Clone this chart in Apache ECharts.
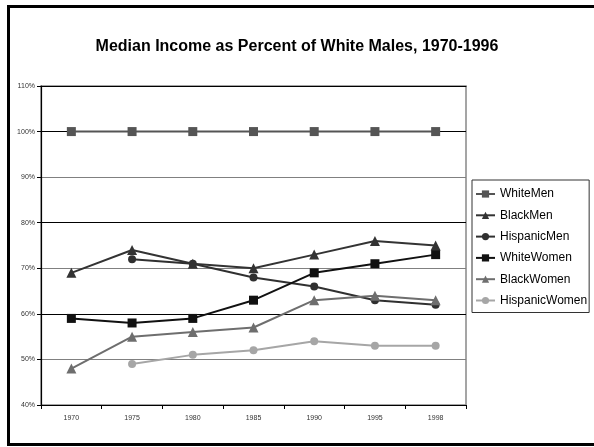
<!DOCTYPE html>
<html>
<head>
<meta charset="utf-8">
<script src="https://cdn.jsdelivr.net/npm/echarts@6/dist/echarts.min.js"></script>
<style>
  html, body { margin: 0; padding: 0; background: #fff; }
  #chart { width: 594px; height: 447px; }
</style>
</head>
<body>
<div id="chart"></div>
<script>
// Years on the category axis
const years = ['1970', '1975', '1980', '1985', '1990', '1995', '1998'];

// Median income as a percent of white males' median income
const whiteMen      = [100, 100, 100, 100, 100, 100, 100];
const blackMen      = [69, 74, 71, 70, 73, 76, 75];
const hispanicMen   = [null, 72, 71, 68, 66, 63, 62];
const whiteWomen    = [59, 58, 59, 63, 69, 71, 73];
const blackWomen    = [48, 55, 56, 57, 63, 64, 63];
const hispanicWomen = [null, 49, 51, 52, 54, 53, 53];

const chart = echarts.init(document.getElementById('chart'), null, { renderer: 'canvas' });

function lineSeries(name, data, color, symbol, size) {
  return {
    name: name,
    type: 'line',
    data: data,
    symbol: symbol,
    symbolSize: size,
    showSymbol: true,
    connectNulls: false,
    lineStyle: { color: color, width: 2 },
    itemStyle: { color: color },
    emphasis: { disabled: true },
    z: 3
  };
}

chart.setOption({
  animation: false,
  backgroundColor: '#ffffff',
  textStyle: { fontFamily: 'Liberation Sans, Arial, sans-serif' },
  title: {
    text: 'Median Income as Percent of White Males, 1970-1996',
    left: 'center',
    top: 34,
    textStyle: { fontSize: 16, fontWeight: 'bold', color: '#000', fontFamily: 'Liberation Sans, Arial, sans-serif' }
  },
  legend: {
    orient: 'vertical',
    left: 472,
    top: 180,
    padding: [8, 2, 6, 3],
    itemWidth: 19,
    itemHeight: 9,
    itemGap: 9.3,
    borderColor: '#333',
    borderWidth: 1,
    textStyle: { fontSize: 12, lineHeight: 12, color: '#000', fontFamily: 'Liberation Sans, Arial, sans-serif' },
    data: ['WhiteMen', 'BlackMen', 'HispanicMen', 'WhiteWomen', 'BlackWomen', 'HispanicWomen']
  },
  grid: {
    left: 41,
    top: 86,
    width: 425,
    bottom: 42,
    show: true,
    borderColor: '#888',
    borderWidth: 1.5,
    backgroundColor: 'transparent'
  },
  xAxis: [
    {
      type: 'category',
      data: years,
      boundaryGap: true,
      axisLine: { lineStyle: { color: '#000', width: 1.2 } },
      axisTick: { show: true, alignWithLabel: false, length: 4, lineStyle: { color: '#000' } },
      axisLabel: { fontSize: 7, color: '#333', margin: 10, fontFamily: 'Liberation Sans, Arial, sans-serif' },
      splitLine: { show: false }
    },
    {
      type: 'category',
      data: years,
      position: 'top',
      boundaryGap: true,
      axisLine: { show: true, lineStyle: { color: '#000', width: 1 } },
      axisTick: { show: false },
      axisLabel: { show: false },
      splitLine: { show: false }
    }
  ],
  yAxis: {
    type: 'value',
    min: 40,
    max: 110,
    interval: 10,
    axisLine: { show: true, lineStyle: { color: '#000', width: 1.2 } },
    axisTick: { show: true, length: 4, lineStyle: { color: '#000' } },
    axisLabel: { fontSize: 7, color: '#333', margin: 6, formatter: '{value}%', fontFamily: 'Liberation Sans, Arial, sans-serif' },
    splitLine: { show: true, lineStyle: { color: ['#000', '#808080'], width: 1.2 } }
  },
  graphic: [
    {
      type: 'rect',
      silent: true,
      shape: { x: 8.5, y: 6.5, width: 600, height: 438 },
      style: { fill: 'none', stroke: '#000', lineWidth: 3 },
      z: 10
    }
  ],
  series: [
    lineSeries('WhiteMen', whiteMen, '#555555', 'rect', 9),
    lineSeries('BlackMen', blackMen, '#333333', 'triangle', 10),
    lineSeries('HispanicMen', hispanicMen, '#303030', 'circle', 8),
    lineSeries('WhiteWomen', whiteWomen, '#111111', 'rect', 9),
    lineSeries('BlackWomen', blackWomen, '#6e6e6e', 'triangle', 10),
    lineSeries('HispanicWomen', hispanicWomen, '#a6a6a6', 'circle', 8)
  ]
});
</script>
</body>
</html>
